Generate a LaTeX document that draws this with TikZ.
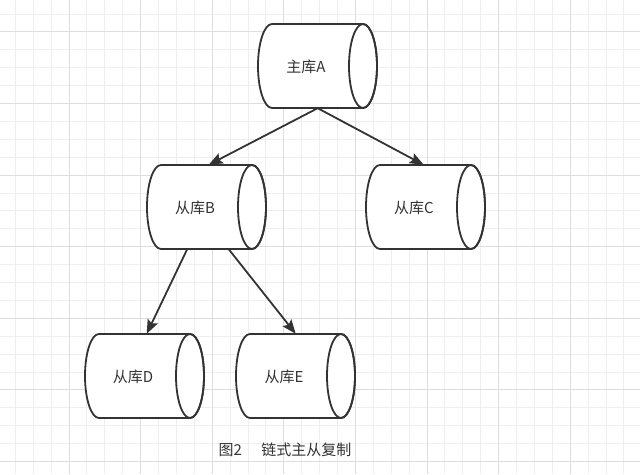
\documentclass[tikz,border=0pt]{standalone}
\usepackage{fontspec}
\setmainfont{Noto Sans CJK SC}
\usetikzlibrary{arrows.meta}
\definecolor{gridminor}{RGB}{238,238,238}
\definecolor{gridmajor}{RGB}{222,222,222}
\definecolor{ink}{RGB}{51,51,51}
\tikzset{
  minorgrid/.style={draw=gridminor,line width=1pt},
  majorgrid/.style={draw=gridmajor,line width=1pt},
  cylline/.style={draw=ink,line width=1.8pt,fill=white,line join=round},
  cyltext/.style={text=ink,font=\fontsize{15}{17}\selectfont,inner sep=0pt},
  cylbox/.style={minimum width=119pt,minimum height=84pt,inner sep=0pt,anchor=west},
  conn/.style={draw=ink,line width=1.8pt,-{Stealth[length=14pt,width=11pt,inset=2.5pt]}},
}
% #1 name, #2 left x, #3 centre y, #4 text
\newcommand\dbcyl[4]{%
  \path[cylline] (#2+14,#3+42) -- (#2+105,#3+42)
     arc[start angle=90,end angle=-90,x radius=14pt,y radius=42pt]
     -- (#2+14,#3-42)
     arc[start angle=270,end angle=90,x radius=14pt,y radius=42pt] -- cycle;
  \draw[draw=ink,line width=1.8pt] (#2+105,#3) ellipse[x radius=14pt,y radius=42pt];
  \node[cylbox] (#1) at (#2,#3) {};
  \node[cyltext] (#1t) at (#2+48,#3-1) {#4};
}
\begin{document}
\begin{tikzpicture}[x=1pt,y=1pt]
\useasboundingbox (0,0) rectangle (640,474);
\fill[white] (0,0) rectangle (640,474);
% grid
\foreach \k in {0,...,35}{
  \pgfmathsetmacro\xx{15.3+17.9*\k}
  \draw[minorgrid] (\xx,0) -- (\xx,474);
}
\foreach \k in {0,...,26}{
  \pgfmathsetmacro\yy{474-(14.1+17.9*\k)}
  \draw[minorgrid] (0,\yy) -- (640,\yy);
}
\foreach \k in {0,...,8}{
  \pgfmathsetmacro\xx{69+71.6*\k}
  \draw[majorgrid] (\xx,0) -- (\xx,474);
}
\foreach \k in {0,...,6}{
  \pgfmathsetmacro\yy{474-(32+71.6*\k)}
  \draw[majorgrid] (0,\yy) -- (640,\yy);
}
% cylinders
\dbcyl{A}{258}{408}{主库A}
\dbcyl{B}{147}{267}{从库B}
\dbcyl{C}{366}{267}{从库C}
\dbcyl{D}{85}{98}{从库D}
\dbcyl{E}{236}{98}{从库E}
% connectors
\draw[conn] (A.south) -- ([xshift=2pt]B.north);
\draw[conn] (A.south) -- ([xshift=-2pt]C.north);
\draw[conn] ([xshift=-19.5pt]B.south) -- ([xshift=2pt]D.north);
\draw[conn] ([xshift=22pt]B.south) -- (E.north);
% caption
\node[text=ink,font=\fontsize{15}{17}\selectfont,inner sep=0pt] (cap) at (285,24) {图2\hspace{1.3em}链式主从复制};
\end{tikzpicture}
\end{document}
